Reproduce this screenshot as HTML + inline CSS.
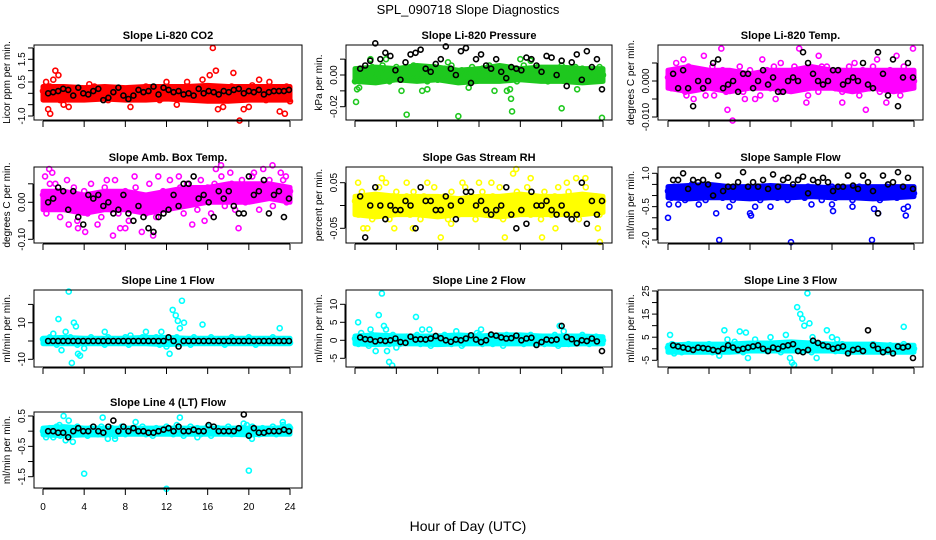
<!DOCTYPE html>
<html><head><meta charset="utf-8"><style>
html,body{margin:0;padding:0;background:#fff;}
svg{display:block;font-family:"Liberation Sans",Arial,sans-serif;}
</style></head><body>
<svg id="chart" width="936" height="540" viewBox="0 0 936 540">
<text x="468" y="14" text-anchor="middle" font-size="13">SPL_090718  Slope Diagnostics</text>
<text x="468" y="531" text-anchor="middle" font-size="14">Hour of Day (UTC)</text>
</svg>
<script>
// ---- data: hours on x, slope values on y ----
const xTicks = [0,4,8,12,16,20,24];
const xTickLabels = ["0","4","8","12","16","20","24"];
const bandHours = [0,2,4,6,8,10,12,14,16,18,20,22,24];

const co2Core = [0.1,-0.2,0.3,-0.1,0.2,-0.3,0.0,0.25,-0.15,0.1,-0.25,0.2,0.05,-0.2,0.15,0.3,-0.1,0.0,0.2,-0.3,0.1,-0.05,0.25,-0.2,0.1,0.0,-0.25,0.2,0.1,-0.1,0.3,-0.2,0.05,0.15,-0.3,0.2,0.0,-0.15,0.25,0.1,-0.2,0.05,0.3,-0.1,0.15,-0.25,0.2,0.0,-0.1,0.25,0.1,-0.3,0.15,0.05,-0.2,0.3,-0.1,0.2,0.0,-0.25,0.1,0.35,-0.15,0.05,0.2,-0.3,0.15,-0.05,0.25,-0.2,0.1,0.3,-0.35];
const co2BandHi = [0.3,0.3,0.25,0.3,0.25,0.3,0.3,0.3,0.35,0.3,0.3,0.3,0.3];
const co2BandLo = [-0.3,-0.3,-0.3,-0.25,-0.3,-0.3,-0.25,-0.3,-0.35,-0.35,-0.3,-0.3,-0.3];
const co2OutHours = [0.3,0.5,0.7,1.0,1.2,1.5,2.0,2.5,4.5,8.5,12.0,13.0,14.0,15.5,16.2,16.5,16.8,17.0,17.5,18.5,19.1,19.5,20.0,21.0,22.0,23.0,23.5];
const co2OutVals = [0.5,-0.7,-0.9,0.6,1.0,0.8,-0.5,-0.6,0.4,-0.6,0.5,-0.5,0.5,0.6,0.8,2.0,1.0,-0.7,-0.6,0.9,-1.2,-0.7,-0.6,0.6,0.5,-0.8,-0.9];
const co2Black = [0.0,0.05,0.1,0.2,0.15,-0.1,0.25,0.0,-0.05,0.1,0.2,-0.3,-0.2,0.05,0.25,-0.1,-0.25,-0.1,0.15,0.05,0.1,0.3,-0.05,0.25,0.15,0.05,0.1,-0.05,0.0,-0.1,0.2,0.0,0.1,0.05,-0.05,0.1,0.05,0.15,0.2,0.0,0.1,0.05,0.15,-0.05,0.05,0.1,0.1,0.1,0.15];

const presCore = [-0.004,0.002,-0.001,0.004,-0.003,0.005,0.001,-0.002,0.006,0.003,-0.004,0.002,0.005,-0.001,0.004,-0.003,0.001,0.006,-0.002,0.003,0.000,-0.004,0.002,0.005,-0.003,0.001,0.004,-0.002,0.006,0.000,-0.004,0.003,0.001,-0.002,0.005,-0.003,0.002,0.004,-0.001,0.006,0.000,-0.003,0.003,0.005,-0.002,0.001,0.004,-0.004,0.002,0.006,-0.001,0.003,-0.003,0.005,0.000,0.002,-0.004,0.004,0.001,-0.002,0.006,0.003,-0.003,0.002,0.005,-0.001,0.004,-0.004,0.001,0.003,-0.002,0.005,0.000];
const presBandHi = [0.004,0.005,0.004,0.006,0.005,0.003,0.004,0.006,0.004,0.005,0.005,0.004,0.004];
const presBandLo = [-0.004,-0.005,-0.003,-0.004,-0.003,-0.005,-0.004,-0.004,-0.003,-0.004,-0.004,-0.005,-0.004];
const presOutHours = [0.1,0.2,0.4,5.0,10.0,13.5,14.7,15.0,15.1,15.2,20.0,23.9,1.5,3.0,4.5,7.0,9.0,16.0,17.0,6.5,11.0,21.5];
const presOutVals = [-0.017,-0.009,-0.008,-0.025,-0.026,-0.01,-0.01,-0.009,-0.015,-0.023,-0.021,-0.027,0.01,0.01,-0.01,-0.009,0.008,0.01,0.009,-0.01,-0.008,-0.009];
const presBlack = [0.004,0.006,0.009,0.02,0.01,0.014,0.012,0.003,-0.003,0.008,0.013,0.014,0.016,0.004,0.002,0.007,0.01,0.018,0.004,0.0,0.015,0.017,-0.005,0.01,0.013,0.006,0.004,0.01,0.002,-0.002,0.005,0.004,0.003,0.011,0.01,0.006,0.002,0.012,0.011,0.0,0.009,-0.007,0.008,0.013,-0.003,0.015,0.005,0.01,-0.009];

const tempCore = [0.001,-0.002,0.003,-0.001,0.002,-0.003,0.004,0.0,-0.002,0.003,0.001,-0.004,0.002,0.004,-0.001,0.0,0.003,-0.003,0.002,-0.002,0.001,0.004,-0.003,0.0,0.003,-0.001,0.002,-0.004,0.001,0.003,-0.002,0.004,0.0,-0.003,0.002,0.001,-0.001,0.004,-0.002,0.003,0.0,-0.004,0.002,0.001,-0.003,0.004,-0.001,0.002,0.0,-0.002,0.003,-0.003,0.001,0.004,-0.001,0.002,-0.004,0.003,0.0,-0.002,0.004,0.001,-0.003,0.002,0.0,0.003,-0.002,0.001,-0.004,0.004,0.002,-0.001,0.0];
const tempBandHi = [0.003,0.004,0.003,0.003,0.002,0.003,0.003,0.004,0.003,0.003,0.003,0.003,0.003];
const tempBandLo = [-0.002,-0.003,-0.002,-0.003,-0.002,-0.002,-0.003,-0.002,-0.002,-0.003,-0.002,-0.003,-0.002];
const tempOutHours = [0.8,1.5,2.5,3.5,4.5,5.2,5.8,6.3,7.5,9.2,10.5,12.8,13.5,14.7,15.5,18.2,19.3,20.4,21.3,22.3,23.9,1.8,8.5,17.0,11.0];
const tempOutVals = [0.005,0.006,-0.005,0.007,-0.004,0.009,-0.008,-0.011,-0.005,0.006,-0.005,0.009,-0.006,0.007,0.004,0.005,-0.008,0.006,-0.006,0.007,0.009,-0.004,-0.005,-0.006,0.005];
const tempBlack = [0.002,-0.002,0.003,-0.002,-0.007,0.0,-0.002,0.0,0.005,0.006,-0.002,-0.001,0.0,-0.003,0.002,0.002,-0.002,0.0,0.003,-0.001,0.001,-0.003,-0.003,0.0,0.001,0.0,0.008,0.005,0.002,0.0,-0.001,0.0,0.003,0.003,-0.001,0.0,0.001,0.0,0.005,-0.001,-0.002,0.008,0.002,-0.004,0.006,-0.007,0.001,0.005,0.001];

const ambCore = [0.02,-0.03,0.05,-0.01,0.03,-0.04,0.0,0.06,-0.02,0.04,-0.05,0.01,0.03,-0.03,0.05,-0.01,0.02,-0.04,0.04,0.0,-0.02,0.06,-0.03,0.01,0.03,-0.05,0.02,0.04,-0.01,0.0,-0.03,0.05,0.02,-0.04,0.01,0.03,-0.02,0.06,-0.01,0.02,0.04,-0.03,0.05,0.0,0.03,-0.02,0.06,0.01,0.04,-0.03,0.05,0.02,0.07,-0.01,0.03,0.05,-0.02,0.04,0.06,0.0,0.03,0.07,0.01,-0.02,0.05,0.03,0.06,-0.01,0.04,0.02,0.06,0.0,0.03];
const ambBandHi = [0.03,0.03,0.02,0.03,0.03,0.02,0.03,0.04,0.04,0.05,0.05,0.05,0.04];
const ambBandLo = [-0.02,-0.02,-0.03,-0.02,-0.02,-0.03,-0.02,-0.01,0.0,0.0,0.0,0.01,0.0];
const ambOutHours = [0.2,0.6,0.9,1.2,2.5,3.4,4.1,5.3,6.2,6.8,8.0,8.9,9.6,10.7,11.2,13.2,15.7,16.8,17.3,18.2,19.0,20.5,21.4,22.3,23.1,23.6,7.5,14.5];
const ambOutVals = [0.07,0.09,0.08,0.05,-0.06,-0.07,-0.08,-0.06,0.06,-0.09,-0.07,0.07,-0.08,-0.09,0.07,0.07,-0.05,0.09,0.1,0.08,-0.07,0.08,0.09,0.1,0.08,0.07,-0.07,-0.06];
const ambBlack = [0.0,0.01,0.04,0.03,-0.02,0.03,-0.04,-0.06,0.02,0.01,0.02,-0.01,0.0,-0.03,-0.02,0.02,-0.03,-0.05,-0.01,-0.04,-0.07,-0.08,-0.04,-0.03,-0.02,0.02,-0.01,0.05,0.05,0.07,0.01,0.02,0.0,-0.04,0.03,0.01,0.03,-0.01,-0.03,-0.03,0.07,0.02,0.03,0.06,-0.03,0.02,0.03,-0.04,0.01];

const rhCore = [0.01,-0.02,0.03,-0.01,0.02,-0.03,0.0,0.04,-0.02,0.01,-0.03,0.02,0.03,-0.01,0.0,0.02,-0.02,0.03,0.01,-0.03,0.02,0.0,-0.01,0.04,-0.02,0.01,0.02,-0.03,0.03,0.0,-0.02,0.01,0.04,-0.01,0.02,-0.03,0.0,0.03,-0.02,0.01,0.02,-0.01,0.04,-0.03,0.0,0.02,-0.02,0.03,0.01,-0.01,0.04,-0.02,0.02,0.0,-0.03,0.03,0.01,-0.02,0.02,0.04,-0.01,0.0,0.03,-0.02,0.01,-0.03,0.02,0.04,0.0,-0.01,0.02,-0.02,0.01];
const rhBandHi = [0.02,0.025,0.02,0.02,0.02,0.015,0.02,0.02,0.025,0.02,0.02,0.025,0.02];
const rhBandLo = [-0.02,-0.025,-0.02,-0.02,-0.025,-0.02,-0.02,-0.025,-0.02,-0.02,-0.02,-0.02,-0.015];
const rhOutHours = [0.3,0.8,1.2,2.6,3.0,3.8,5.0,5.6,7.0,8.3,9.3,10.4,12.0,14.5,15.3,15.6,17.0,18.1,19.4,20.5,21.4,22.3,23.5,23.7,13.2];
const rhOutVals = [0.05,-0.05,-0.05,0.06,0.05,-0.05,0.05,-0.05,0.05,-0.07,-0.04,0.05,0.05,-0.07,0.07,0.08,0.06,-0.07,-0.05,0.05,0.06,0.06,-0.05,-0.08,0.05];
const rhBlack = [0.02,-0.07,0.0,0.04,0.0,-0.03,0.0,-0.01,-0.01,0.01,0.0,-0.05,0.04,0.01,0.01,-0.01,-0.01,0.02,0.0,-0.03,0.01,0.03,0.03,0.0,0.01,-0.01,-0.02,-0.01,0.0,0.04,-0.02,-0.05,-0.01,-0.04,0.03,0.0,0.0,0.01,-0.01,-0.02,0.0,-0.02,-0.03,-0.02,0.05,-0.04,0.01,-0.02,0.01];

const sampCore = [0.2,-0.1,0.4,0.0,0.3,-0.2,0.1,0.5,-0.1,0.2,0.3,-0.2,0.1,0.4,0.0,0.2,-0.1,0.3,0.1,-0.2,0.4,0.0,0.2,0.3,-0.1,0.1,0.4,-0.2,0.2,0.0,0.3,0.1,-0.1,0.4,0.2,-0.2,0.1,0.3,0.0,0.2,-0.1,0.4,0.1,0.0,0.3,-0.2,0.2,0.1,0.4,-0.1,0.3,0.0,0.2,0.1,-0.2,0.3,0.4,0.0,0.2,-0.1,0.1,0.3,-0.2,0.2,0.4,0.0,0.1,-0.1,0.3,0.2,0.0,0.2,0.1];
const sampBandHi = [0.4,0.45,0.5,0.4,0.4,0.45,0.4,0.4,0.35,0.4,0.4,0.4,0.4];
const sampBandLo = [-0.1,-0.15,-0.1,-0.1,-0.15,-0.1,-0.1,-0.05,-0.1,-0.1,-0.15,-0.1,-0.05];
const sampOutHours = [0.0,0.1,1.0,4.7,5.0,6.0,8.0,8.1,8.5,10.0,12.0,14.0,16.0,16.1,19.9,20.1,20.5,23.0,23.2,23.4,3.0,18.0];
const sampOutVals = [-1.0,-0.4,-0.4,-0.8,-2.0,-0.5,-0.8,-0.9,-0.5,-0.5,-2.1,-0.4,-0.4,-0.7,-2.0,-0.6,-0.8,-0.6,-0.9,-0.5,-0.4,-0.5];
const sampBlack = [0.7,0.7,1.0,0.3,0.7,0.6,0.7,0.5,0.0,0.9,0.2,0.4,0.4,0.6,1.05,0.4,0.6,0.4,0.7,0.3,0.95,0.4,0.7,0.8,0.5,0.7,0.85,0.1,0.7,0.6,0.8,0.6,0.2,0.4,0.4,0.9,0.45,0.3,0.9,0.6,0.2,-0.8,0.9,0.5,0.6,1.05,0.4,0.8,0.3];

const l1Core = [1,-1,2,0,-2,1,0,-1,2,1,-2,0,1,-1,2,0,-1,1,-2,2,0,1,-1,0,2,-2,1,0,-1,2,1,-1,0,2,-2,1,0,-1,1,2,-1,0,1,-2,2,0,1,-1,0,2,-1,1,0,-2,1,2,-1,0,1,-1,2,0,-2,1,0,1,-1,2,0,-1,1,0,-1];
const l1BandHi = [1.5,2,1.5,1.5,1.5,2,2,1.5,1.5,1.5,1.5,1.5,1.5];
const l1BandLo = [-1.5,-1.5,-1.5,-1.5,-1.5,-1.5,-2,-1.5,-1.5,-1.5,-1.5,-1.5,-1.5];
const l1OutHours = [1.0,1.5,1.8,2.2,2.5,2.8,3.0,3.2,3.4,3.6,6.0,8.5,10.0,11.5,12.0,12.3,12.6,12.9,13.1,13.3,13.5,13.7,15.5,23.0,4.0];
const l1OutVals = [4,12,-5,5,27,-12,10,8,-7,-8,5,3,5,5,-3,-7,17,14,11,7,22,10,9,7,-4];
const l1Black = [0,0,0,0,0,0,0,0,0,0,0,0,0,0,0,0,0,0,0,0,0,0,0,0,2,0,-3,0,0,0,0,0,0,0,0,0,0,0,0,0,0,0,0,0,0,0,0,0,0];

const l2Core = [0.5,-1,1,0,-1.5,1.5,0,-0.5,1,0.5,-1,1.5,0,-1,0.5,1,-0.5,0,1.5,-1,0.5,0,-1.5,1,0.5,-0.5,1.5,0,-1,0.5,1,-1.5,0,1,-0.5,0.5,1.5,-1,0,0.5,-1,1,0,-1.5,1.5,0.5,-0.5,0,1,-1,0.5,1.5,-0.5,0,1,-1,0.5,0,1.5,-1.5,0.5,0,-1,1,0.5,-0.5,1.5,0,-1,0.5,1,-0.5,0];
const l2BandHi = [1.2,1.5,1.2,1.2,1.2,1.5,1.2,1.5,1.5,1.2,1.2,1.2,1.0];
const l2BandLo = [-1.0,-1.2,-1.0,-1.0,-1.2,-1.0,-1.0,-1.0,-1.0,-1.0,-1.2,-1.0,-1.0];
const l2OutHours = [0.3,0.6,1.5,2.0,2.3,2.6,2.8,3.0,3.1,3.3,3.6,4.0,5.9,6.5,7.2,9.8,10.5,11.8,12.2,19.8,20.2];
const l2OutVals = [5,2,3,-3,7,13,4,3,-3,-6,-7,-2,6.5,3,3,2.5,-1,2,3,4,2.5];
const l2Black = [0.8,0.3,0.2,-0.3,0.0,-0.2,0.0,0.5,-0.5,-0.7,1.0,0.2,0.3,0.2,0.5,1.2,0.6,0.0,-0.4,0.2,0.0,0.5,1.4,0.2,-0.5,0.0,1.6,1.3,0.8,0.5,0.6,1.3,0.0,0.5,0.7,-1.3,-0.5,0.2,0.0,0.2,4.0,0.9,0.3,-0.8,0.0,-0.2,0.5,-0.3,-3.0];

const l3Core = [0.5,-1,1.5,0,-1.5,1,2,-0.5,0.5,1.5,-1,0,2,-1.5,1,0.5,-0.5,1.5,0,-1,2,0.5,-1.5,1,0,1.5,-0.5,2,0.5,-1,1,0,1.5,-1.5,0.5,2,-0.5,1,0,-1,1.5,0.5,-1.5,2,0,1,-0.5,0.5,1.5,-1,0,2,0.5,-1.5,1,0,1.5,-0.5,0.5,-1,2,0,1,-1.5,0.5,1.5,0,-0.5,1,2,-1,0.5,0];
const l3BandHi = [1.5,2,2,2,2.5,2.5,3,2.5,2,2,2,1.5,1.5];
const l3BandLo = [-1.5,-1.5,-1.5,-1.5,-1,-1,-1,-1,-1,-1.5,-1.5,-1.5,-1.5];
const l3OutHours = [0.2,0.4,0.6,5.0,5.5,5.8,6.5,7.0,7.6,7.8,11.5,11.9,12.1,12.3,12.6,12.9,13.1,13.3,13.6,13.8,14.1,14.5,15.5,16.0,16.5,23.0,8.5,10.0];
const l3OutVals = [6,2,-2,-3,8,4,3,7.5,7,-4,6,-4,-6,-7,18,15,13,10,24,11,5,-4,8,5,4,9.5,4,5];
const l3Black = [1.5,1.0,0.5,0.0,-0.5,0.5,0.3,0.0,-0.5,-1.0,0.0,1.5,0.5,-0.5,0.0,0.5,1.0,1.5,0.0,-1.0,0.5,0.0,1.0,1.5,2.0,-1.0,-1.5,-0.5,3.5,2.5,1.5,1.0,0.0,0.5,1.0,-2.0,-0.5,0.0,-1.0,8.0,1.5,0.0,-1.5,-0.5,-2.0,1.0,0.5,1.0,-4.0];

const l4Core = [0.0,-0.1,0.1,-0.05,0.15,-0.15,0.05,0.0,0.1,-0.1,0.15,-0.05,0.05,-0.15,0.1,0.0,-0.1,0.15,0.05,-0.05,0.1,-0.15,0.0,0.15,-0.1,0.05,0.1,-0.05,0.0,0.15,-0.1,0.05,-0.15,0.1,0.0,-0.05,0.15,0.05,-0.1,0.1,0.0,-0.15,0.05,0.15,-0.05,0.1,-0.1,0.0,0.15,-0.15,0.05,0.1,-0.05,0.0,0.15,-0.1,0.05,-0.05,0.1,0.0,-0.15,0.15,0.05,-0.1,0.1,0.0,-0.05,0.15,-0.1,0.05,0.2,0.0,0.1];
const l4BandHi = [0.1,0.15,0.1,0.1,0.1,0.1,0.1,0.1,0.1,0.1,0.1,0.1,0.12];
const l4BandLo = [-0.12,-0.15,-0.12,-0.12,-0.1,-0.1,-0.1,-0.1,-0.1,-0.1,-0.12,-0.1,-0.1];
const l4OutHours = [0.3,1.0,1.6,2.0,2.2,2.5,2.9,4.0,5.8,6.3,9.0,12.0,13.0,13.3,19.5,19.8,20.0,20.3,23.3,23.9,7.0,15.0];
const l4OutVals = [-0.2,-0.2,0.2,0.5,-0.3,0.35,-0.35,-1.4,0.45,-0.25,0.3,-1.9,0.2,0.45,0.25,0.2,-1.3,-0.25,0.3,0.15,-0.25,-0.2];
const l4Black = [0.0,0.0,-0.05,-0.05,-0.2,0.0,0.1,0.0,0.0,0.15,0.0,-0.05,0.15,0.35,0.0,0.15,0.0,0.1,0.0,0.0,-0.05,-0.05,0.0,0.05,0.1,0.0,0.15,0.0,0.0,0.05,0.0,0.0,0.2,0.15,0.0,0.0,0.0,0.0,0.1,0.55,-0.15,0.1,-0.05,-0.05,0.0,0.0,0.0,0.05,0.0];

// ---- layout ----
const cols = [{l:34,r:302,x0:43,x24:290},{l:346,r:612,x0:355,x24:603},{l:658,r:923,x0:668,x24:914}];
const rows = [{t:45,b:120},{t:167,b:243},{t:290,b:367},{t:412,b:488}];

const panels = [
 {name:"co2",title:"Slope Li-820 CO2",ylab:"Licor ppm per min.",col:0,row:0,color:"#ff0000",core:co2Core,hi:co2BandHi,lo:co2BandLo,oh:co2OutHours,ov:co2OutVals,blk:co2Black,v1:-1,y1:116,v2:1.5,y2:59.3,ticks:[-1,-0.5,0,0.5,1,1.5,2],labs:[[-1,"-1.0"],[0.5,"0.5"],[1.5,"1.5"]]},
 {name:"pressure",title:"Slope Li-820 Pressure",ylab:"kPa per min.",col:1,row:0,color:"#1ec81e",core:presCore,hi:presBandHi,lo:presBandLo,oh:presOutHours,ov:presOutVals,blk:presBlack,v1:0,y1:75,v2:-0.02,y2:106.7,ticks:[-0.02,-0.01,0,0.01],labs:[[0,"0.00"],[-0.02,"-0.02"]]},
 {name:"temp",title:"Slope Li-820 Temp.",ylab:"degrees C per min.",col:2,row:0,color:"#ff00ff",core:tempCore,hi:tempBandHi,lo:tempBandLo,oh:tempOutHours,ov:tempOutVals,blk:tempBlack,v1:0,y1:81,v2:-0.01,y2:117,ticks:[-0.01,-0.005,0,0.005],labs:[[0,"0.000"],[-0.01,"-0.010"]]},
 {name:"amb-box-temp",title:"Slope Amb. Box Temp.",ylab:"degrees C per min.",col:0,row:1,color:"#ff00ff",core:ambCore,hi:ambBandHi,lo:ambBandLo,oh:ambOutHours,ov:ambOutVals,blk:ambBlack,v1:0,y1:202.3,v2:-0.1,y2:239.3,ticks:[-0.1,-0.05,0,0.05],labs:[[0,"0.00"],[-0.1,"-0.10"]]},
 {name:"gas-stream-rh",title:"Slope Gas Stream RH",ylab:"percent per min.",col:1,row:1,color:"#ffff00",core:rhCore,hi:rhBandHi,lo:rhBandLo,oh:rhOutHours,ov:rhOutVals,blk:rhBlack,v1:0.05,y1:182.7,v2:-0.05,y2:228.3,ticks:[-0.05,0,0.05],labs:[[0.05,"0.05"],[-0.05,"-0.05"]]},
 {name:"sample-flow",title:"Slope Sample Flow",ylab:"ml/min per min.",col:2,row:1,color:"#0000ff",core:sampCore,hi:sampBandHi,lo:sampBandLo,oh:sampOutHours,ov:sampOutVals,blk:sampBlack,v1:1,y1:173.3,v2:-2,y2:240,ticks:[-2,-1.5,-1,-0.5,0,0.5,1],labs:[[1,"1.0"],[-0.5,"-0.5"],[-2,"-2.0"]]},
 {name:"line1-flow",title:"Slope Line 1 Flow",ylab:"ml/min per min.",col:0,row:2,color:"#00ffff",core:l1Core,hi:l1BandHi,lo:l1BandLo,oh:l1OutHours,ov:l1OutVals,blk:l1Black,v1:10,y1:322.7,v2:-10,y2:359.3,ticks:[-10,0,10,20],labs:[[-10,"-10"],[10,"10"]]},
 {name:"line2-flow",title:"Slope Line 2 Flow",ylab:"ml/min per min.",col:1,row:2,color:"#00ffff",core:l2Core,hi:l2BandHi,lo:l2BandLo,oh:l2OutHours,ov:l2OutVals,blk:l2Black,v1:10,y1:304.3,v2:-5,y2:358.3,ticks:[-5,0,5,10],labs:[[-5,"-5"],[0,"0"],[5,"5"],[10,"10"]]},
 {name:"line3-flow",title:"Slope Line 3 Flow",ylab:"ml/min per min.",col:2,row:2,color:"#00ffff",core:l3Core,hi:l3BandHi,lo:l3BandLo,oh:l3OutHours,ov:l3OutVals,blk:l3Black,v1:25,y1:291,v2:-5,y2:360.3,ticks:[-5,0,5,10,15,20,25],labs:[[-5,"-5"],[5,"5"],[15,"15"],[25,"25"]]},
 {name:"line4-flow",title:"Slope Line 4 (LT) Flow",ylab:"ml/min per min.",col:0,row:3,color:"#00ffff",core:l4Core,hi:l4BandHi,lo:l4BandLo,oh:l4OutHours,ov:l4OutVals,blk:l4Black,v1:0.5,y1:416,v2:-1.5,y2:476.7,ticks:[-1.5,-1,-0.5,0,0.5],labs:[[0.5,"0.5"],[-0.5,"-0.5"],[-1.5,"-1.5"]]}
];

const NS = "http://www.w3.org/2000/svg";
const svg = document.getElementById("chart");
function mk(tag, attrs, parent){ const e=document.createElementNS(NS,tag); for(const k in attrs) e.setAttribute(k,attrs[k]); (parent||svg).appendChild(e); return e; }

panels.forEach(p=>{
  const c=cols[p.col], r=rows[p.row];
  const g=mk("g",{});
  
  
  const xs=h=>c.x0+(c.x24-c.x0)*h/24;
  const ys=v=>p.y1+(v-p.v1)*(p.y2-p.y1)/(p.v2-p.v1);
  const t=mk("text",{x:(c.l+c.r)/2,y:r.t-6,"text-anchor":"middle","font-size":"11","font-weight":"bold"},g);
  t.textContent=p.title;
  
  
  // dense cloud envelope
  const upper=bandHours.map((h,i)=>xs(h)+","+ys(p.hi[i]));
  const lower=bandHours.map((h,i)=>xs(h)+","+ys(p.lo[i])).reverse();
  const band=mk("polygon",{points:upper.concat(lower).join(" "),fill:p.color,stroke:p.color,"stroke-width":"5","stroke-linejoin":"round"},g);
  
  
  const pts=mk("g",{fill:"none","stroke-width":"1.6"},g);
  
  
  const n=p.core.length;
  p.core.forEach((v,i)=>{
    const ci=mk("circle",{cx:xs(i*24/(n-1)),cy:ys(v),r:2.5,stroke:p.color},pts);
    
    
  });
  p.oh.forEach((h,i)=>{
    const ci=mk("circle",{cx:xs(h),cy:ys(p.ov[i]),r:2.5,stroke:p.color},pts);
    
    
  });
  const nb=p.blk.length;
  p.blk.forEach((v,i)=>{
    const ci=mk("circle",{cx:xs(0.5+i*23.4/(nb-1)),cy:ys(v),r:2.5,stroke:"#000"},pts);
    
    
  });
  const box=mk("rect",{x:c.l,y:r.t,width:c.r-c.l,height:r.b-r.t,fill:"none",stroke:"#000","stroke-width":"1"},g);
  
  
  const xa=mk("g",{stroke:"#000","stroke-width":"1"},g);
  
  
  mk("line",{x1:xs(0),x2:xs(24),y1:r.b+1,y2:r.b+1},xa);
  xTicks.forEach((h,i)=>{
    mk("line",{x1:xs(h),x2:xs(h),y1:r.b+1,y2:r.b+7},xa);
    if(p.row===3){
      const tl=mk("text",{x:xs(h),y:r.b+22,"text-anchor":"middle","font-size":"10",stroke:"none"},xa);
      tl.textContent=xTickLabels[i];
      
      
    }
  });
  const ya=mk("g",{stroke:"#000","stroke-width":"1"},g);
  
  
  const tmin=Math.min(...p.ticks), tmax=Math.max(...p.ticks);
  mk("line",{x1:c.l-1,x2:c.l-1,y1:ys(tmin),y2:ys(tmax)},ya);
  p.ticks.forEach(v=>{ mk("line",{x1:c.l-6,x2:c.l-1,y1:ys(v),y2:ys(v)},ya); });
  p.labs.forEach(([v,s])=>{
    const lx=c.l-9, ly=ys(v);
    const tl=mk("text",{x:lx,y:ly,"text-anchor":"middle","font-size":"10",stroke:"none",transform:`rotate(-90 ${lx} ${ly})`},ya);
    tl.textContent=s;
    
    
  });
  const yl=c.l-24, ym=(r.t+r.b)/2;
  const yt=mk("text",{x:yl,y:ym,"text-anchor":"middle","font-size":"10",transform:`rotate(-90 ${yl} ${ym})`},g);
  yt.textContent=p.ylab;
  
  
});
</script>
</body></html>
